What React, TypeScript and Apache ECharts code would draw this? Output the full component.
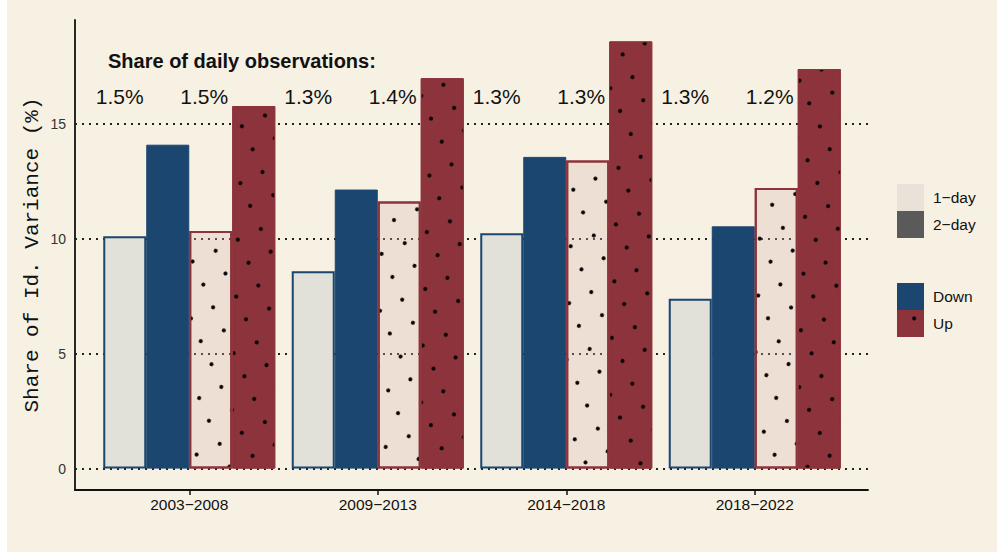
import React, { useEffect, useRef } from "react";
import * as echarts from "echarts";

const categories = ["2003−2008", "2009−2013", "2014−2018", "2018−2022"];
const oneDayDown = [10.1, 8.58, 10.23, 7.38];
const twoDayDown = [14.08, 12.13, 13.55, 10.53];
const oneDayUp = [10.33, 11.61, 13.39, 12.2];
const twoDayUp = [15.76, 16.97, 18.57, 17.37];
const shareDown = [1.5, 1.3, 1.3, 1.3];
const shareUp = [1.5, 1.4, 1.3, 1.2];
const yTicks = [0, 5, 10, 15];
const legendLength = ["1−day", "2−day"];
const legendDirection = ["Down", "Up"];

const BLUE = "#1B466F";
const RED = "#8C333B";
const LABEL_Y = 16.16;

const decal = {
  symbol: "circle",
  symbolSize: 1,
  color: "#000",
  dashArrayX: [
    [3.8, 30.2],
    [0, 17, 3.8, 13.2],
  ],
  dashArrayY: [3.8, 13.2],
  rotation: 0.35,
};

export default function App() {
  const ref = useRef<HTMLDivElement>(null);
  useEffect(() => {
    document.body.style.margin = "0";
    const chart = echarts.init(ref.current!, undefined, { renderer: "svg" });
    const font = "Liberation Sans";
    const pctSeries = (name: string, shares: number[], dx: number) => ({
      name,
      type: "scatter",
      xAxisIndex: 1,
      yAxisIndex: 1,
      symbolSize: 0,
      itemStyle: { color: "#111", opacity: 1 },
      silent: true,
      z: 3,
      data: shares.map((s, i) => [i, LABEL_Y, s]),
      label: {
        show: true,
        position: "inside",
        offset: [dx, 0],
        fontSize: 21,
        color: "#111",
        opacity: 1,
        textBorderWidth: 0,
        fontFamily: font,
        formatter: (p: any) => p.value[2].toFixed(1) + "%",
      },
    });
    chart.setOption({
      animation: false,
      backgroundColor: "#F7F1E4",
      textStyle: { fontFamily: font },
      title: {
        text: "Share of daily observations:",
        left: 101,
        top: 51,
        padding: 0,
        textStyle: { fontSize: 20, fontWeight: "bold", color: "#111", fontFamily: font },
      },
      legend: [
        {
          data: legendLength,
          orient: "vertical",
          left: 890,
          top: 184,
          itemWidth: 27,
          itemHeight: 27,
          itemGap: 0,
          padding: 0,
          icon: "rect",
          selectedMode: false,
          textStyle: { fontSize: 15.5, color: "#111", padding: [0, 0, 0, 4], fontFamily: font },
        },
        {
          data: legendDirection,
          orient: "vertical",
          left: 890,
          top: 283,
          itemWidth: 27,
          itemHeight: 27,
          itemGap: 0,
          padding: 0,
          icon: "rect",
          selectedMode: false,
          textStyle: { fontSize: 15.5, color: "#111", padding: [0, 0, 0, 4], fontFamily: font },
        },
      ],
      grid: [
        { left: 68, top: 20, width: 793, height: 470 },
        { left: 88, top: 20, width: 754, height: 470 },
      ],
      xAxis: [
        {
          type: "category",
          gridIndex: 0,
          data: ["x"],
          axisLine: { show: true, onZero: false, lineStyle: { color: "#111", width: 1.8 } },
          axisTick: { show: false },
          axisLabel: { show: false },
          splitLine: { show: false },
        },
        {
          type: "category",
          gridIndex: 1,
          data: categories,
          axisLine: { show: false, onZero: false },
          axisTick: { show: true, alignWithLabel: true, length: 5, lineStyle: { color: "#111", width: 1.5 } },
          axisLabel: { fontSize: 15.5, color: "#111", margin: 6, fontFamily: font },
          splitLine: { show: false },
        },
      ],
      yAxis: [
        {
          type: "value",
          gridIndex: 0,
          min: -0.93,
          max: 19.5,
          axisLine: { show: true, lineStyle: { color: "#111", width: 1.8 } },
          axisTick: { show: false },
          splitLine: { show: false },
          axisLabel: {
            fontSize: 14,
            color: "#333",
            margin: 9,
            fontFamily: font,
            formatter: (v: number) =>
              yTicks.some((t) => Math.abs(t - v) < 1e-6) ? String(Math.round(v)) : "",
          },
          name: "Share of Id. Variance (%)",
          nameLocation: "middle",
          nameGap: 32,
          nameMoveOverlap: false,
          nameTextStyle: { fontFamily: "Liberation Mono", fontSize: 21, color: "#111" },
        },
        { type: "value", gridIndex: 1, min: -0.93, max: 19.5, show: false },
      ],
      series: [
        {
          name: "gridlines",
          type: "line",
          xAxisIndex: 0,
          yAxisIndex: 0,
          data: [],
          z: 1,
          silent: true,
          markLine: {
            silent: true,
            z: 1,
            symbol: ["none", "none"],
            label: { show: false },
            lineStyle: { type: [2, 5], color: "#222", width: 1.8 },
            data: yTicks.map((v) => ({ yAxis: v })),
          },
        },
        { name: "1−day", type: "bar", xAxisIndex: 0, yAxisIndex: 0, data: [], itemStyle: { color: "#E8E2D8" } },
        { name: "2−day", type: "bar", xAxisIndex: 0, yAxisIndex: 0, data: [], itemStyle: { color: "#5A5A5A" } },
        { name: "Down", type: "bar", xAxisIndex: 0, yAxisIndex: 0, data: [], itemStyle: { color: BLUE } },
        { name: "Up", type: "bar", xAxisIndex: 0, yAxisIndex: 0, data: [], itemStyle: { color: RED, decal } },
        {
          name: "1-day Down",
          type: "bar",
          xAxisIndex: 1,
          yAxisIndex: 1,
          data: oneDayDown,
          barWidth: 43,
          barGap: "0%",
          z: 2,
          itemStyle: { color: "#E1E0D9", borderColor: BLUE, borderWidth: 2 },
        },
        {
          name: "2-day Down",
          type: "bar",
          xAxisIndex: 1,
          yAxisIndex: 1,
          data: twoDayDown,
          barWidth: 43,
          barGap: "0%",
          z: 2,
          itemStyle: { color: BLUE, borderColor: BLUE, borderWidth: 1 },
        },
        {
          name: "1-day Up",
          type: "bar",
          xAxisIndex: 1,
          yAxisIndex: 1,
          data: oneDayUp,
          barWidth: 43,
          barGap: "0%",
          z: 2,
          itemStyle: { color: "rgba(214,183,174,0.3)", borderColor: RED, borderWidth: 2, decal },
        },
        {
          name: "2-day Up",
          type: "bar",
          xAxisIndex: 1,
          yAxisIndex: 1,
          data: twoDayUp,
          barWidth: 43,
          barGap: "0%",
          z: 2,
          itemStyle: { color: RED, borderColor: RED, borderWidth: 1, decal },
        },
        pctSeries("share down", shareDown, -69.5),
        pctSeries("share up", shareUp, 15),
      ],
    });
    return () => chart.dispose();
  }, []);
  return (
    <div style={{ width: 997, height: 554, background: "#fff", position: "relative" }}>
      <div ref={ref} style={{ position: "absolute", left: 7, top: 0, width: 990, height: 552 }} />
    </div>
  );
}
